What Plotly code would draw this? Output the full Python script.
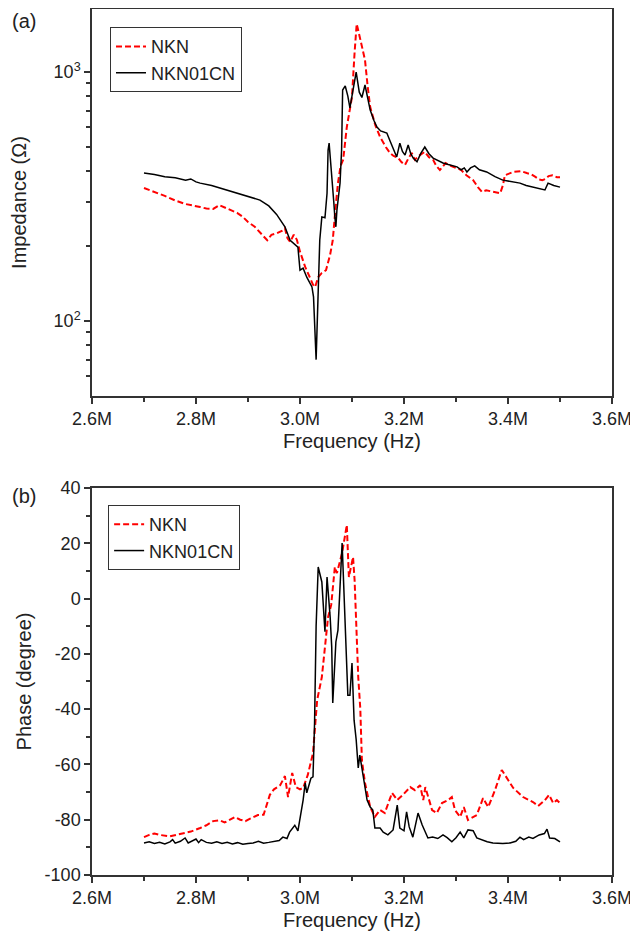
import plotly.graph_objects as go

# ---------------- data (frequency in MHz, converted to Hz below) ----------------
# (a) Impedance, NKN01CN
imp_cn_f = [2.700, 2.720, 2.740, 2.760, 2.780, 2.790, 2.800, 2.808, 2.830, 2.850, 2.870, 2.890, 2.910,
            2.923, 2.940, 2.955, 2.971, 2.981, 2.996, 3.000, 3.006, 3.013, 3.023, 3.026, 3.031, 3.035,
            3.038, 3.042, 3.048, 3.052, 3.054, 3.056, 3.060, 3.065, 3.067, 3.069, 3.071, 3.077, 3.080,
            3.082, 3.087, 3.092, 3.096, 3.102, 3.108, 3.114, 3.119, 3.125, 3.130, 3.135, 3.142, 3.148,
            3.155, 3.167, 3.173, 3.179, 3.186, 3.192, 3.197, 3.202, 3.208, 3.213, 3.218, 3.225, 3.232,
            3.240, 3.248, 3.256, 3.265, 3.275, 3.285, 3.295, 3.302, 3.310, 3.316, 3.321, 3.328, 3.336,
            3.345, 3.359, 3.375, 3.390, 3.405, 3.423, 3.435, 3.448, 3.460, 3.471, 3.477, 3.488, 3.500]
imp_cn_z = [393, 388, 380, 376, 368, 372, 362, 358, 350, 340, 330, 320, 312,
            306, 290, 268, 239, 211, 198, 160, 163, 150, 137, 125, 70, 142,
            211, 262, 260, 326, 486, 518, 420, 300, 262, 239, 279, 358, 486,
            847, 879, 800, 717, 860, 1000, 830, 790, 887, 780, 703, 640, 601,
            580, 569, 530, 495, 456, 518, 480, 464, 509, 470, 450, 436, 470,
            500, 470, 451, 440, 431, 425, 418, 416, 405, 412, 397, 412, 420,
            405, 397, 380, 368, 363, 358, 350, 345, 340, 336, 358, 350, 345]

# (a) Impedance, NKN
imp_nkn_f = [2.700, 2.720, 2.740, 2.760, 2.780, 2.808, 2.820, 2.833, 2.845, 2.860, 2.879, 2.890, 2.900,
             2.913, 2.925, 2.937, 2.945, 2.955, 2.965, 2.971, 2.976, 2.981, 2.988, 2.994, 3.000, 3.010,
             3.020, 3.025, 3.029, 3.035, 3.042, 3.050, 3.058, 3.063, 3.068, 3.073, 3.078, 3.083, 3.090,
             3.100, 3.105, 3.109, 3.115, 3.120, 3.125, 3.130, 3.135, 3.145, 3.154, 3.165, 3.173, 3.180,
             3.189, 3.195, 3.202, 3.208, 3.215, 3.221, 3.228, 3.240, 3.248, 3.256, 3.262, 3.269, 3.275,
             3.280, 3.290, 3.302, 3.310, 3.320, 3.333, 3.342, 3.350, 3.358, 3.365, 3.375, 3.385, 3.390,
             3.394, 3.410, 3.425, 3.436, 3.445, 3.452, 3.460, 3.466, 3.472, 3.478, 3.485, 3.494, 3.500]
imp_nkn_z = [342, 330, 318, 305, 295, 287, 283, 282, 292, 283, 272, 262, 250,
             239, 225, 211, 222, 225, 230, 236, 215, 208, 222, 212, 190, 165,
             148, 140, 137, 150, 156, 160, 185, 211, 280, 358, 420, 444, 601,
             794, 1200, 1560, 1380, 1250, 1117, 880, 723, 610, 548, 500, 473, 460,
             451, 435, 424, 448, 473, 444, 460, 478, 455, 444, 420, 404, 420,
             431, 420, 411, 404, 385, 368, 345, 330, 335, 333, 330, 326, 350,
             385, 397, 400, 393, 388, 380, 370, 368, 372, 382, 385, 378, 378]

# (b) Phase, NKN01CN
ph_cn_f = [2.700, 2.710, 2.720, 2.730, 2.740, 2.750, 2.755, 2.760, 2.770, 2.779, 2.785, 2.790, 2.800,
           2.805, 2.810, 2.820, 2.830, 2.840, 2.850, 2.860, 2.870, 2.880, 2.890, 2.900, 2.910, 2.920,
           2.930, 2.940, 2.950, 2.960, 2.967, 2.975, 2.980, 2.990, 2.996, 3.006, 3.010, 3.013, 3.021,
           3.025, 3.028, 3.031, 3.035, 3.040, 3.042, 3.048, 3.052, 3.058, 3.061, 3.063, 3.069, 3.073,
           3.081, 3.092, 3.096, 3.100, 3.104, 3.108, 3.112, 3.115, 3.122, 3.129, 3.135, 3.140, 3.144,
           3.154, 3.160, 3.169, 3.179, 3.187, 3.192, 3.200, 3.205, 3.210, 3.217, 3.227, 3.235, 3.246,
           3.255, 3.265, 3.275, 3.283, 3.292, 3.300, 3.308, 3.315, 3.323, 3.333, 3.340, 3.350, 3.360,
           3.371, 3.390, 3.404, 3.415, 3.423, 3.430, 3.440, 3.448, 3.460, 3.470, 3.475, 3.480, 3.490, 3.500]
ph_cn_p = [-88.4, -88.0, -88.6, -88.2, -88.8, -88.0, -87.2, -88.5, -87.8, -86.6, -88.4, -88.0, -87.0,
           -88.3, -87.2, -88.2, -88.5, -88.0, -88.6, -88.2, -88.8, -88.3, -88.9, -88.6, -88.4, -87.8,
           -88.5, -88.2, -87.8, -87.5, -86.3, -86.8, -84.5, -82.0, -84.0, -72.9, -66.7, -70.3, -65.0,
           -64.5, -45.0, -10.0, 11.4, 7.0, 6.0, -12.0, 7.8, -6.7, -17.5, -37.8, -15.7, -11.4,
           20.1, -35.0, -35.0, -23.3, -44.0, -51.0, -61.3, -56.6, -65.0, -72.9, -75.4, -76.5, -83.0,
           -83.0, -84.5, -85.5, -83.7, -74.7, -83.0, -84.0, -77.2, -82.6, -86.3, -77.6, -81.9, -86.6,
           -86.3, -86.8, -85.5, -86.5, -88.0, -86.5, -84.5, -86.6, -83.7, -84.0, -86.6, -87.4, -88.0,
           -88.4, -88.6, -88.4, -87.8, -86.3, -87.2, -86.3, -86.8, -85.5, -85.0, -83.4, -86.6, -86.8, -88.0]

# (b) Phase, NKN
ph_nkn_f = [2.700, 2.710, 2.720, 2.730, 2.750, 2.770, 2.790, 2.808, 2.820, 2.833, 2.845, 2.855, 2.865,
            2.875, 2.885, 2.895, 2.905, 2.919, 2.930, 2.935, 2.942, 2.950, 2.962, 2.971, 2.977, 2.985,
            2.992, 3.000, 3.006, 3.015, 3.025, 3.033, 3.042, 3.054, 3.060, 3.067, 3.071, 3.081, 3.090,
            3.094, 3.099, 3.102, 3.105, 3.112, 3.116, 3.119, 3.125, 3.135, 3.144, 3.154, 3.163, 3.177,
            3.187, 3.198, 3.212, 3.221, 3.231, 3.237, 3.241, 3.254, 3.263, 3.273, 3.285, 3.292, 3.298,
            3.308, 3.315, 3.323, 3.340, 3.352, 3.362, 3.375, 3.388, 3.394, 3.410, 3.429, 3.448, 3.458,
            3.471, 3.479, 3.487, 3.494, 3.500]
ph_nkn_p = [-86.3, -85.5, -85.0, -85.5, -86.0, -85.2, -84.3, -83.0, -82.0, -80.5, -80.2, -81.0, -80.0,
            -79.0, -80.0, -80.5, -79.5, -78.3, -78.2, -75.0, -71.0, -69.0, -67.5, -64.2, -71.8, -63.1,
            -68.2, -69.0, -68.5, -63.8, -55.9, -36.7, -28.4, -6.7, -2.3, 11.4, 9.2, 16.5, 26.6,
            7.8, 12.0, 15.0, 6.7, -28.4, -40.0, -58.4, -66.7, -75.4, -79.0, -76.5, -77.6, -70.3,
            -72.9, -71.0, -68.2, -69.3, -67.5, -72.9, -68.2, -76.5, -77.6, -74.0, -72.9, -71.8, -76.5,
            -79.0, -75.4, -80.1, -78.3, -72.2, -75.4, -69.3, -62.0, -63.8, -68.5, -71.8, -73.6, -75.0,
            -72.9, -71.0, -74.0, -72.9, -74.0]

# tick labels
x_tickvals = [2.6e6, 2.8e6, 3.0e6, 3.2e6, 3.4e6, 3.6e6]
x_ticktext = ["2.6M", "2.8M", "3.0M", "3.2M", "3.4M", "3.6M"]
x_minorvals = [2.7e6, 2.9e6, 3.1e6, 3.3e6, 3.5e6]
imp_tickvals = [100, 1000]
imp_ticktext = ["10<sup>2</sup>", "10<sup>3</sup>"]
imp_minorvals = [60, 70, 80, 90, 200, 300, 400, 500, 600, 700, 800, 900]
ph_tickvals = [-100, -80, -60, -40, -20, 0, 20, 40]
ph_ticktext = ["-100", "-80", "-60", "-40", "-20", "0", "20", "40"]
ph_minorvals = [-90, -70, -50, -30, -10, 10, 30]

# ---------------- figure ----------------
FONT = "Liberation Sans, Arial, sans-serif"
RED = "#ff0000"
BLACK = "#000000"
AX = "#333333"
TXT = "#222222"


def hz(v):
    return [f * 1e6 for f in v]


fig = go.Figure()
fig.add_trace(go.Scatter(x=hz(imp_nkn_f), y=imp_nkn_z, mode="lines", name="NKN",
                         line=dict(color=RED, width=2, dash="6px,3px"),
                         xaxis="x", yaxis="y", legend="legend"))
fig.add_trace(go.Scatter(x=hz(imp_cn_f), y=imp_cn_z, mode="lines", name="NKN01CN",
                         line=dict(color=BLACK, width=1.5),
                         xaxis="x", yaxis="y", legend="legend"))
fig.add_trace(go.Scatter(x=hz(ph_nkn_f), y=ph_nkn_p, mode="lines", name="NKN",
                         line=dict(color=RED, width=2, dash="6px,3px"),
                         xaxis="x2", yaxis="y2", legend="legend2"))
fig.add_trace(go.Scatter(x=hz(ph_cn_f), y=ph_cn_p, mode="lines", name="NKN01CN",
                         line=dict(color=BLACK, width=1.5),
                         xaxis="x2", yaxis="y2", legend="legend2"))

tick_common = dict(ticks="outside", ticklen=6, tickwidth=1.5, tickcolor=AX,
                   showline=True, linecolor=AX, linewidth=1.5, mirror=True,
                   showgrid=False, zeroline=False, tickfont=dict(size=18, color=TXT))


def minor(vals):
    return dict(ticks="outside", ticklen=4, tickwidth=1.5, tickcolor=AX,
                tickmode="array", tickvals=vals, showgrid=False)


common_x = dict(range=[2.6e6, 3.6e6], tickmode="array", tickvals=x_tickvals, ticktext=x_ticktext,
                minor=minor(x_minorvals),
                title=dict(text="Frequency (Hz)", font=dict(size=20, color=TXT), standoff=6),
                **tick_common)

fig.update_layout(
    width=638, height=945,
    # the page body adds an 8px offset; margins compensate so the plot area lands
    # at x 92-612, y 9-875 on screen
    margin=dict(l=84, r=34, t=1, b=78, autoexpand=False),
    paper_bgcolor="white", plot_bgcolor="white",
    font=dict(family=FONT, color=TXT),
    showlegend=True,
    xaxis=dict(domain=[0, 1], anchor="y", **common_x),
    xaxis2=dict(domain=[0, 1], anchor="y2", **common_x),
    yaxis=dict(domain=[0.5531, 1.0], anchor="x", type="log", range=[1.699, 3.253],
               tickmode="array", tickvals=imp_tickvals, ticktext=imp_ticktext,
               minor=minor(imp_minorvals),
               title=dict(text="Impedance (Ω)", font=dict(size=20, color=TXT), standoff=24),
               **tick_common),
    yaxis2=dict(domain=[0.0, 0.4469], anchor="x2", range=[-100, 40],
                tickmode="array", tickvals=ph_tickvals, ticktext=ph_ticktext,
                minor=minor(ph_minorvals),
                title=dict(text="Phase (degree)", font=dict(size=20, color=TXT), standoff=8),
                **tick_common),
    legend=dict(x=0.0346, y=0.979, xanchor="left", yanchor="top",
                bordercolor=AX, borderwidth=1, bgcolor="white",
                font=dict(size=18, color=TXT), tracegroupgap=0),
    legend2=dict(x=0.031, y=0.4273, xanchor="left", yanchor="top",
                 bordercolor=AX, borderwidth=1, bgcolor="white",
                 font=dict(size=18, color=TXT), tracegroupgap=0),
    annotations=[
        dict(text="(a)", x=-0.158, y=0.9861, xref="paper", yref="paper", xanchor="left",
             yanchor="middle", showarrow=False, font=dict(size=20, color=TXT)),
        dict(text="(b)", x=-0.158, y=0.4376, xref="paper", yref="paper", xanchor="left",
             yanchor="middle", showarrow=False, font=dict(size=20, color=TXT)),
    ],
)

fig.write_html("out.html")
